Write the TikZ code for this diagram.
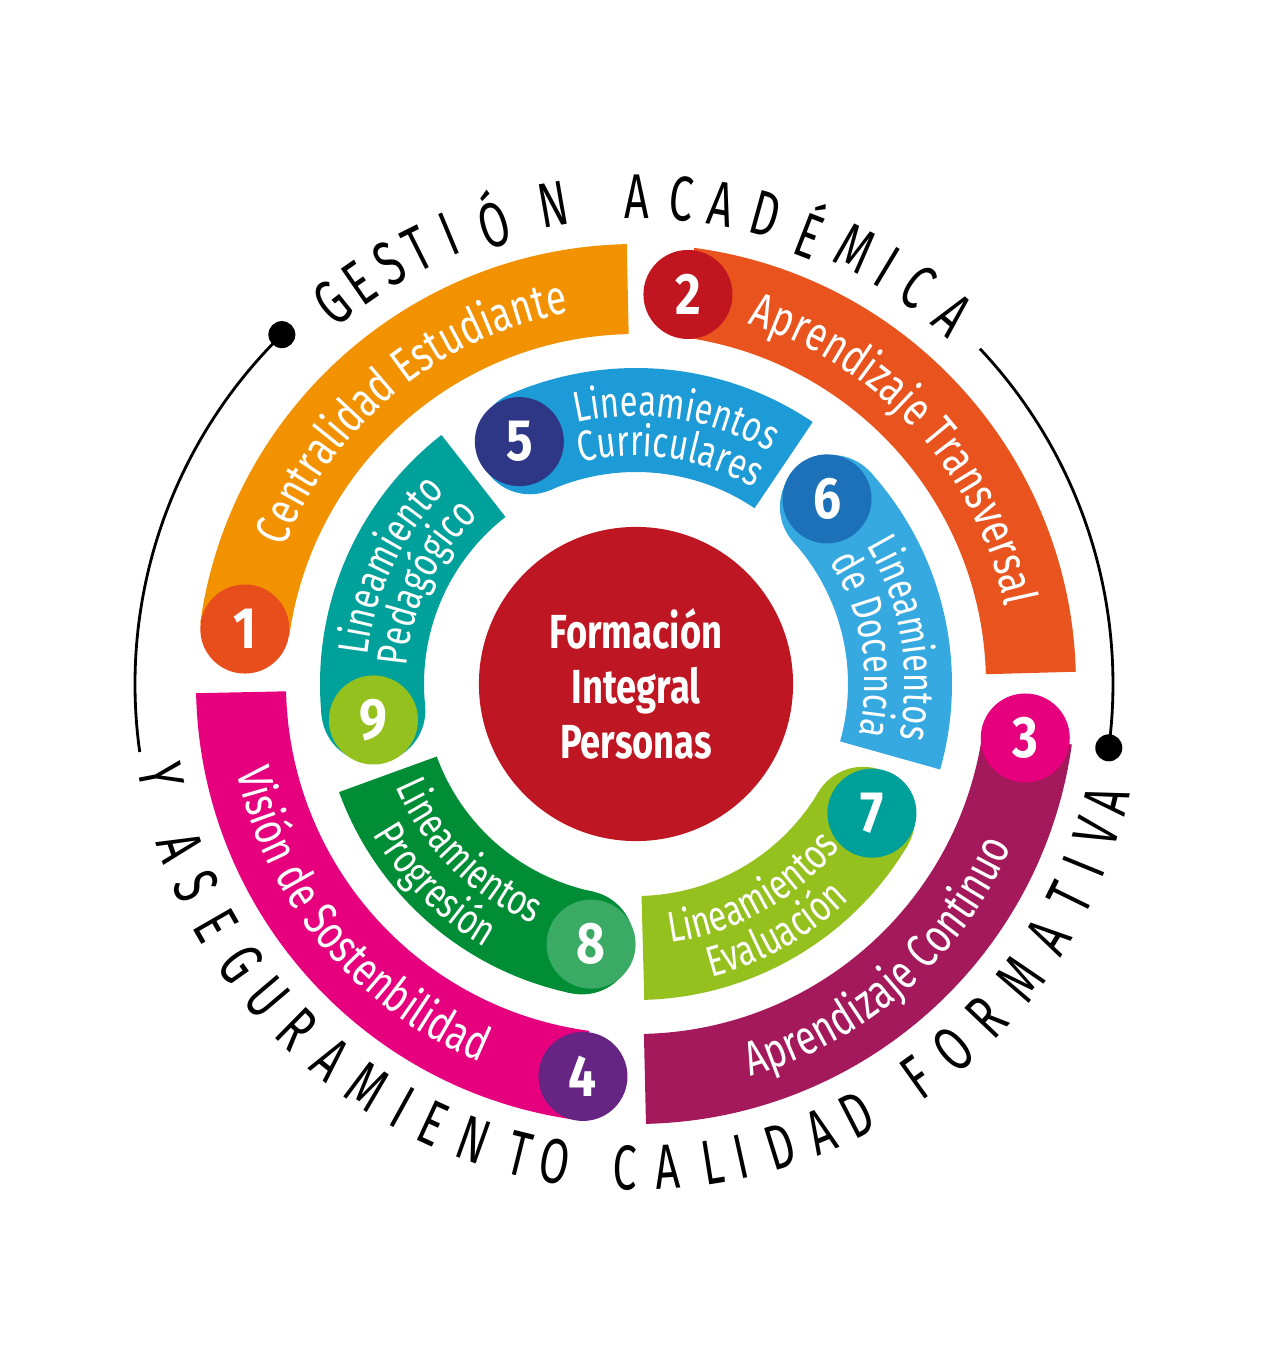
\documentclass[tikz,border=0pt]{standalone}
\usepackage{fontspec}
\setmainfont{Fira Sans}
\newfontfamily\bandfont{Fira Sans}[FakeStretch=0.76]
\newfontfamily\numfont{Fira Sans}[FakeStretch=0.85]
\newfontfamily\corefont{Fira Sans}[FakeStretch=0.76]
\newfontfamily\ringfont{Fira Sans}[FakeStretch=0.68]
\usetikzlibrary{decorations.text}
\definecolor{BandOrange}{HTML}{F39200}
\definecolor{DiscOne}{HTML}{E84E1B}
\definecolor{BandRust}{HTML}{E9531E}
\definecolor{DiscTwo}{HTML}{C1161F}
\definecolor{BandPlum}{HTML}{A3195B}
\definecolor{DiscThree}{HTML}{E6007E}
\definecolor{BandPink}{HTML}{E6007E}
\definecolor{DiscFour}{HTML}{662483}
\definecolor{CoreRed}{HTML}{BE1622}
\definecolor{BandSky}{HTML}{1D9BD7}
\definecolor{DiscFive}{HTML}{2D3785}
\definecolor{BandAzure}{HTML}{36A9E1}
\definecolor{DiscSix}{HTML}{1D71B8}
\definecolor{BandLime}{HTML}{95C11F}
\definecolor{DiscSeven}{HTML}{00A09A}
\definecolor{BandGreen}{HTML}{008D36}
\definecolor{DiscEight}{HTML}{3AAA64}
\definecolor{BandTeal}{HTML}{00A19A}
\definecolor{DiscNine}{HTML}{95C11F}
\newcommand{\outerfmt}{\bandfont\fontsize{13.8}{15}\selectfont\color{white}}
\newcommand{\innerfmt}{\bandfont\fontsize{12.2}{13}\selectfont\color{white}}

\begin{document}
\begin{tikzpicture}[x=0.01cm, y=0.01cm,
    numdisc/.style={circle, inner sep=0pt, minimum size=0.89cm, text=white,
      font=\numfont\bfseries\fontsize{16.6}{18}\selectfont},
    core/.style={circle, inner sep=0pt, minimum size=3.14cm, fill=CoreRed, text=white,
      align=center, font=\corefont\bfseries\fontsize{13.6}{15.6}\selectfont},
    ringletter/.style={inner sep=0pt, font=\ringfont\fontsize{18}{18}\selectfont},
    outertext/.style={decorate, decoration={text along path, text align=center, text={|\outerfmt|#1}}},
    innertext/.style={decorate, decoration={text along path, text align=center, text={|\innerfmt|#1}}},
    thinline/.style={line width=0.8pt},
    pin/.style={circle, fill=black, inner sep=0pt, minimum size=0.27cm}]
  \fill[white] (-636,-682) rectangle (632,684);
  \useasboundingbox (-636,-682) rectangle (632,684);

  % thin circle with its two pins
  \begin{scope}[shift={(-12,0)}]
    \node[pin] (pinL) at (134.4:489) {};
    \node[pin] (pinR) at (-7.5:489) {};
    \coordinate (endR) at (43.3:489);
    \draw[thinline] (pinL.center) arc[start angle=134.4, end angle=188, radius=489];
    \draw[thinline] (endR) arc[start angle=43.3, end angle=-7.5, radius=489];
  \end{scope}

  % outer ring
  \fill[BandOrange] (91.2:350) arc[start angle=91.2, end angle=172, radius=350] -- (172:440) arc[start angle=172, end angle=91.2, radius=440] -- cycle;
  \fill[BandRust] (1.6:350) arc[start angle=1.6, end angle=82.4, radius=350] -- (82.4:440) arc[start angle=82.4, end angle=1.6, radius=440] -- cycle;
  \fill[BandPlum] (-88.7:350) arc[start angle=-88.7, end angle=-7.9, radius=350] -- (-7.9:440) arc[start angle=-7.9, end angle=-88.7, radius=440] -- cycle;
  \fill[BandPink] (181.2:350) arc[start angle=181.2, end angle=262.3, radius=350] -- (262.3:440) arc[start angle=262.3, end angle=181.2, radius=440] -- cycle;

  \path[outertext={Centralidad Estudiante}] (174.5:377) arc[start angle=174.5, end angle=84.5, radius=377];
  \path[outertext={Aprendizaje Transversal}] (87.3:377) arc[start angle=87.3, end angle=-2.7, radius=377];
  \path[outertext={Aprendizaje Continuo}] (-93.6:409) arc[start angle=-93.6, end angle=-3.6, radius=409];
  \path[outertext={Visión de Sostenbilidad}] (175:409) arc[start angle=175, end angle=265, radius=409];

  \node[numdisc, fill=DiscOne] (n1) at (172:395) {1};
  \node[numdisc, fill=DiscTwo] (n2) at (82.4:393) {2};
  \node[numdisc, fill=DiscThree] (n3) at (-7.9:393) {3};
  \node[numdisc, fill=DiscFour] (n4) at (262.3:396) {4};

  % inner ring
  \fill[BandSky] (56:212) arc[start angle=56, end angle=113.7, radius=212] -- (113.7:316) arc[start angle=113.7, end angle=56, radius=316] -- cycle;
  \fill[BandSky] (113.7:264) circle[radius=52];
  \fill[BandAzure] (-15.7:212) arc[start angle=-15.7, end angle=42.1, radius=212] -- (42.1:316) arc[start angle=42.1, end angle=-15.7, radius=316] -- cycle;
  \fill[BandAzure] (42.1:264) circle[radius=52];
  \fill[BandLime] (-88.5:212) arc[start angle=-88.5, end angle=-30.7, radius=212] -- (-30.7:316) arc[start angle=-30.7, end angle=-88.5, radius=316] -- cycle;
  \fill[BandLime] (-30.7:264) circle[radius=52];
  \fill[BandGreen] (200:212) arc[start angle=200, end angle=258.2, radius=212] -- (258.2:316) arc[start angle=258.2, end angle=200, radius=316] -- cycle;
  \fill[BandGreen] (258.2:264) circle[radius=52];
  \fill[BandTeal] (128:212) arc[start angle=128, end angle=185.8, radius=212] -- (185.8:316) arc[start angle=185.8, end angle=128, radius=316] -- cycle;
  \fill[BandTeal] (185.8:264) circle[radius=52];

  \path[innertext={Lineamientos}] (126.5:268) arc[start angle=126.5, end angle=36.5, radius=268];
  \path[innertext={Curriculares}] (126.5:228) arc[start angle=126.5, end angle=36.5, radius=228];
  \path[innertext={Lineamientos}] (54.7:269) arc[start angle=54.7, end angle=-35.3, radius=269];
  \path[innertext={de Docencia}] (54.7:229) arc[start angle=54.7, end angle=-35.3, radius=229];
  \path[innertext={Lineamientos}] (-105.5:261) arc[start angle=-105.5, end angle=-15.5, radius=261];
  \path[innertext={Evaluación}] (-105.5:303) arc[start angle=-105.5, end angle=-15.5, radius=303];
  \path[innertext={Lineamientos}] (180:261) arc[start angle=180, end angle=270, radius=261];
  \path[innertext={Progresión}] (180:303) arc[start angle=180, end angle=270, radius=303];
  \path[innertext={Lineamiento}] (199.3:270) arc[start angle=199.3, end angle=109.3, radius=270];
  \path[innertext={Pedagógico}] (199.3:230) arc[start angle=199.3, end angle=109.3, radius=230];

  \node[numdisc, fill=DiscFive] (n5) at (115.7:269) {5};
  \node[numdisc, fill=DiscSix] (n6) at (44.1:266) {6};
  \node[numdisc, fill=DiscSeven] (n7) at (-28.7:269) {7};
  \node[numdisc, fill=DiscEight] (n8) at (260.2:264) {8};
  \node[numdisc, fill=DiscNine] (n9) at (187.8:265) {9};

  % centre
  \node[core] (core) at (0,0) {Formación\\Integral\\Personas};

  % lettering round the ring
  \foreach \ch/\ang [count=\i] in {G/128.6, E/124.6, S/120.4, T/116.6, I/112.6, Ó/107.2,
      N/99.8, A/89.9, C/84.6, A/79.9, D/74.6, É/68.8, M/63.3, I/58.9, C/54.6, A/49.3}
    \node[ringletter, rotate=\ang-90] (top\i) at (\ang:487) {\ch};
  \foreach \ch/\ang [count=\i] in {Y/190.9, A/199.6, S/204.7, E/209.9, G/215.4, U/220.3,
      R/225.5, A/230.9, M/236.3, I/241.1, E/245.2, N/250.4, T/256.1, O/260.4,
      C/268.7, A/273.7, L/279.1, I/282.5, D/287.3, A/292.4, D/297.2,
      F/305.5, O/311.0, R/316.5, M/322.5, A/328.5, T/333.8, I/337.8, V/342.1, A/346.1}
    \node[ringletter, rotate=\ang+90] (bot\i) at (\ang:484) {\ch};
\end{tikzpicture}
\end{document}
